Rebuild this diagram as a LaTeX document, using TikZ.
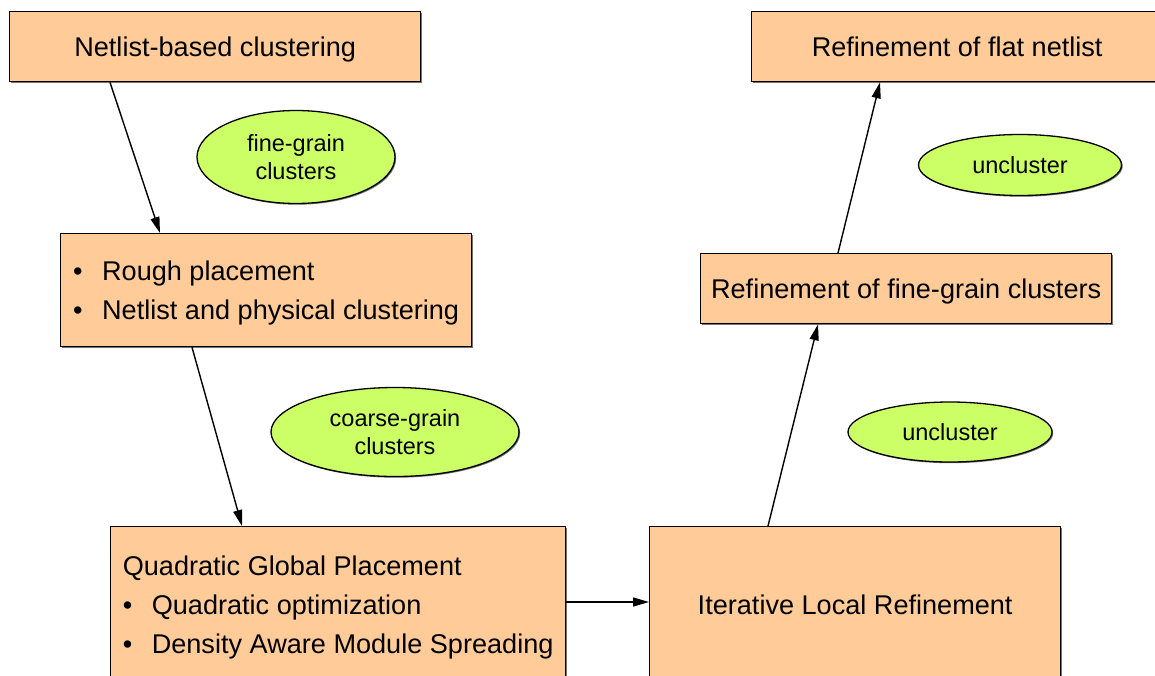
\documentclass[tikz,border=0pt]{standalone}
\usepackage{fontspec}
\setmainfont{Liberation Sans}
\usetikzlibrary{arrows.meta,shapes.geometric,shadows}
\definecolor{boxfill}{HTML}{FFCC99}
\definecolor{ovalfill}{HTML}{CCFF66}
\tikzset{
  stage/.style={draw=black, line width=1.3pt, fill=boxfill, rectangle,
    inner sep=0pt, anchor=north west,
    font={\fontsize{27.1}{38.8}\selectfont},
    drop shadow={shadow xshift=1.3pt, shadow yshift=-1.3pt, fill=black!55, opacity=1}},
  tag/.style={draw=black, line width=1.3pt, fill=ovalfill, ellipse,
    inner sep=0pt, align=center,
    font={\fontsize{23.5}{28}\selectfont},
    drop shadow={shadow xshift=1.2pt, shadow yshift=-1.2pt, fill=black!55, opacity=1}},
  flow/.style={line width=1.4pt, -{Triangle[length=16pt,width=9pt]}},
}
% bullet item with a fixed hanging indent
\newcommand{\bitem}[1]{\makebox[29pt][l]{\textbullet}#1}
% invisible strut that balances the descenders of the last line
\newcommand{\topstrut}{\rule{0pt}{25.8pt}}
\begin{document}
\begin{tikzpicture}[x=1pt,y=-1pt]
\useasboundingbox (0,0) rectangle (1155,675);
\clip (0,0) rectangle (1155,675);

% process stages
\node[stage, minimum width=411pt, minimum height=70pt] (nbc) at (9,11) {\topstrut Netlist-based clustering};
\node[stage, minimum width=411pt, minimum height=113pt, align=left] (rough) at (60,233)
  {\topstrut\bitem{Rough placement}\\ \bitem{Netlist and physical clustering}};
\node[stage, minimum width=455pt, minimum height=156pt, align=left] (qgp) at (110,526)
  {\topstrut Quadratic Global Placement\\ \bitem{Quadratic optimization}\\ \bitem{Density Aware Module Spreading}};
\node[stage, minimum width=411pt, minimum height=156pt] (ilr) at (649,526) {Iterative Local Refinement};
\node[stage, minimum width=411pt, minimum height=70pt] (rfg) at (700,253) {\topstrut Refinement of fine-grain clusters};
\node[stage, minimum width=411pt, minimum height=70pt] (rfn) at (751,11) {Refinement of flat netlist};

% cluster annotations
\node[tag, minimum width=198pt, minimum height=93pt] (fine) at (296,157) {fine-grain\\clusters};
\node[tag, minimum width=248pt, minimum height=89pt] (coarse) at (395,432) {coarse-grain\\clusters};
\node[tag, minimum width=203pt, minimum height=61pt] (unc1) at (1020,165) {uncluster};
\node[tag, minimum width=204pt, minimum height=60pt] (unc2) at (950,432) {uncluster};

% flow connectors
\draw[flow] ([xshift=101pt]nbc.south west) -- ([xshift=100pt]rough.north west);
\draw[flow] ([xshift=132pt]rough.south west) -- ([xshift=132pt]qgp.north west);
\draw[flow] ([yshift=-76pt]qgp.north east) -- ([yshift=-76pt]ilr.north west);
\draw[flow] ([xshift=119pt]ilr.north west) -- ([xshift=118pt]rfg.south west);
\draw[flow] ([xshift=138pt]rfg.north west) -- ([xshift=129pt]rfn.south west);
\end{tikzpicture}
\end{document}
